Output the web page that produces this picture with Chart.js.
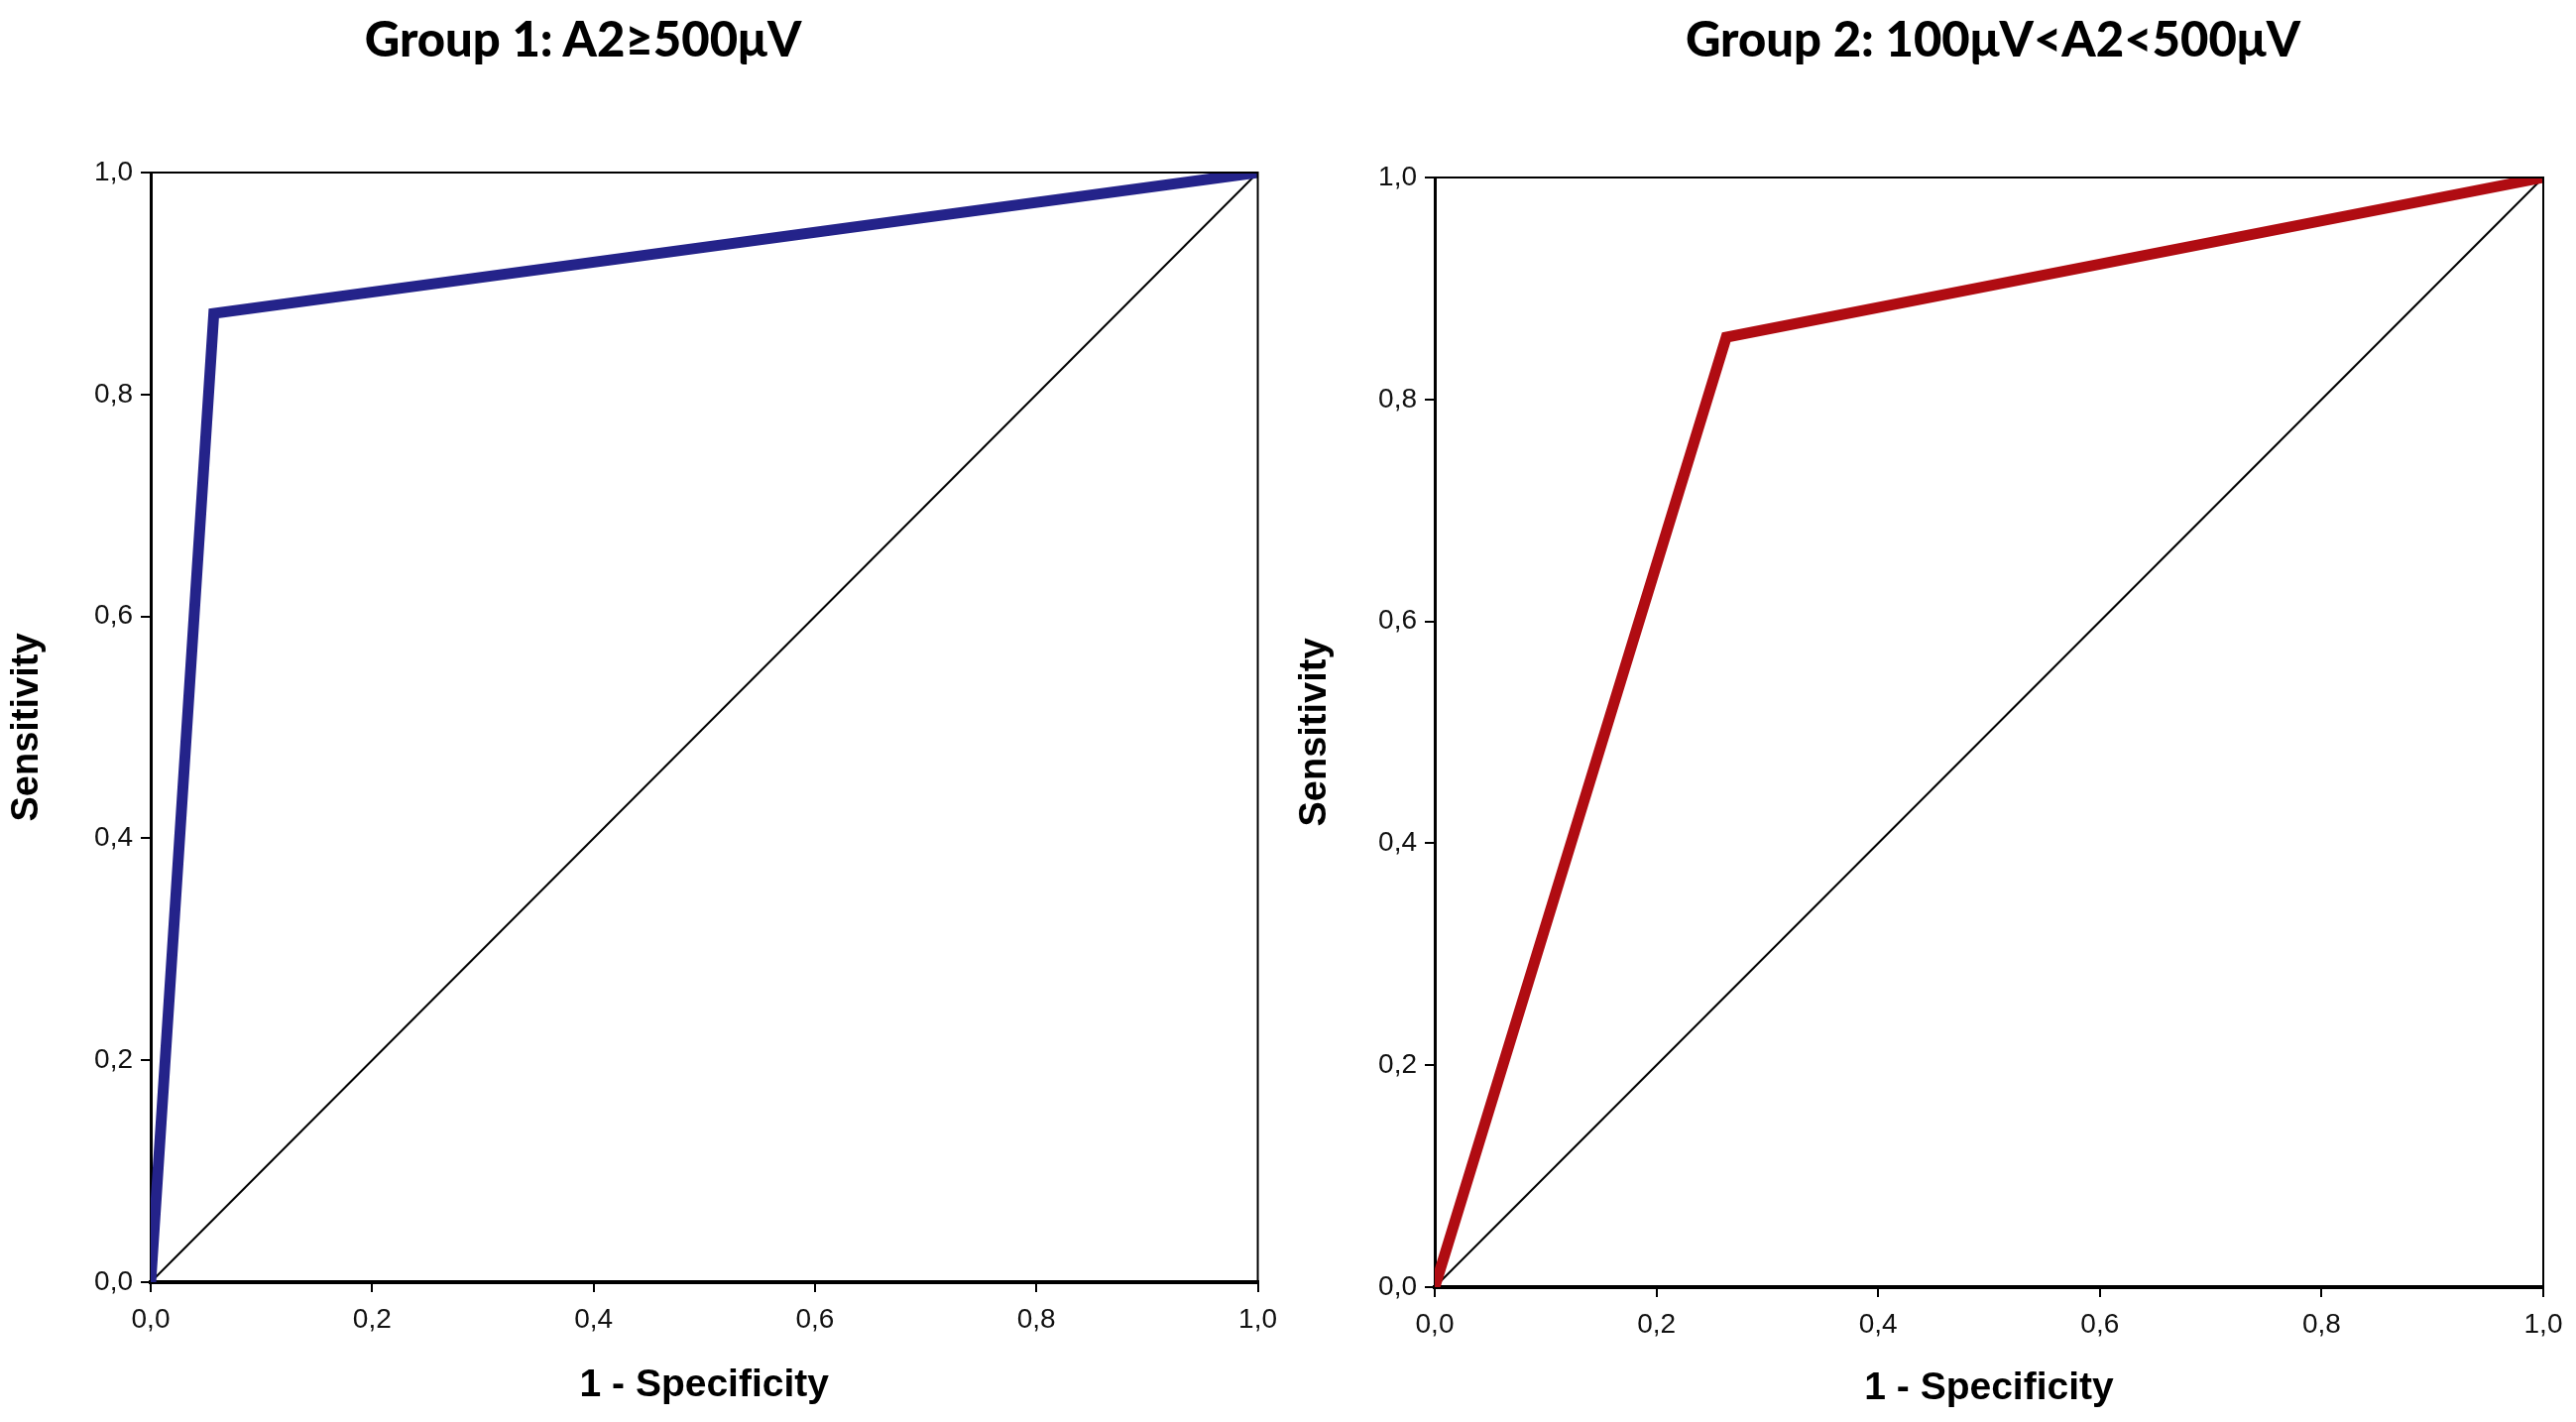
<!DOCTYPE html>
<html>
<head>
<meta charset="utf-8">
<script src="https://cdn.jsdelivr.net/npm/chart.js@4"></script>
<style>
    html, body { margin: 0; padding: 0; background: #fff; }
    body { width: 2598px; height: 1434px; position: relative; overflow: hidden; }
    canvas { position: absolute; top: 0; }
    .title {
        position: absolute;
        top: 8px;
        transform: translateX(-50%);
        font-family: Lato, "Open Sans", sans-serif;
        font-weight: 900;
        font-size: 49px;
        line-height: 60px;
        white-space: nowrap;
        color: #000;
    }
</style>
</head>
<body>
<div class="title" id="title1" style="left: 588px;"></div>
<div class="title" id="title2" style="left: 2010px;"></div>
<canvas id="roc1" width="1299" height="1434" style="left: 0;"></canvas>
<canvas id="roc2" width="1299" height="1434" style="left: 1299px;"></canvas>

<script>
// chart data
const titles = ['Group 1: A2\u2265500\u03bcV', 'Group 2: 100\u03bcV<A2<500\u03bcV'];
const tickLabels = ['0,0', '0,2', '0,4', '0,6', '0,8', '1,0'];

const fprGroup1 = [0, 0.057, 1];
const sensGroup1 = [0, 0.873, 1];

const fprGroup2 = [0, 0.263, 1];
const sensGroup2 = [0, 0.856, 1];

const refX = [0, 1];
const refY = [0, 1];

const toPoints = (xs, ys) => xs.map((x, i) => ({ x: x, y: ys[i] }));

// thin top + right border round the plot area
const framePlugin = {
    id: 'frame',
    afterDatasetsDraw(chart) {
        const { ctx, chartArea } = chart;
        ctx.save();
        ctx.strokeStyle = '#000';
        ctx.lineWidth = 2;
        ctx.beginPath();
        ctx.moveTo(chartArea.left, chartArea.top);
        ctx.lineTo(chartArea.right, chartArea.top);
        ctx.lineTo(chartArea.right, chartArea.bottom);
        ctx.stroke();
        ctx.restore();
    }
};

function makeRoc(canvasId, xs, ys, color, box) {
    const ctx = document.getElementById(canvasId).getContext('2d');
    return new Chart(ctx, {
        type: 'line',
        data: {
            datasets: [{
                data: toPoints(xs, ys),
                borderColor: color,
                borderWidth: 11,
                borderJoinStyle: 'miter',
                pointRadius: 0,
                tension: 0
            }, {
                data: toPoints(refX, refY),
                borderColor: '#000',
                borderWidth: 2,
                pointRadius: 0,
                tension: 0
            }]
        },
        options: {
            responsive: false,
            animation: false,
            devicePixelRatio: 1,
            layout: {
                padding: { top: box.top, right: box.right, left: 0, bottom: 0 }
            },
            plugins: {
                legend: { display: false },
                tooltip: { enabled: false }
            },
            scales: {
                x: {
                    type: 'linear',
                    min: 0,
                    max: 1,
                    afterFit: scale => { scale.height = box.xHeight; },
                    afterBuildTicks: scale => {
                        scale.ticks = tickLabels.map((t, i) => ({ value: i * 0.2 }));
                    },
                    ticks: {
                        padding: 11,
                        color: '#111',
                        font: { family: '"Liberation Sans", Arial, sans-serif', size: 28 },
                        callback: (v, i) => tickLabels[i]
                    },
                    grid: {
                        drawOnChartArea: false,
                        drawTicks: true,
                        tickLength: 10,
                        color: '#000',
                        lineWidth: 2
                    },
                    border: { display: true, color: '#000', width: 4 },
                    title: {
                        display: true,
                        text: '1 - Specificity',
                        color: '#000',
                        padding: { top: 0, bottom: box.xTitlePad },
                        font: { family: '"Liberation Sans", Arial, sans-serif', size: 39, weight: 'bold' }
                    }
                },
                y: {
                    type: 'linear',
                    min: 0,
                    max: 1,
                    afterFit: scale => { scale.width = box.yWidth; },
                    afterBuildTicks: scale => {
                        scale.ticks = tickLabels.map((t, i) => ({ value: i * 0.2 }));
                    },
                    ticks: {
                        padding: 8,
                        color: '#111',
                        font: { family: '"Liberation Sans", Arial, sans-serif', size: 28 },
                        callback: (v, i) => tickLabels[i]
                    },
                    grid: {
                        drawOnChartArea: false,
                        drawTicks: true,
                        tickLength: 10,
                        color: '#000',
                        lineWidth: 2
                    },
                    border: { display: true, color: '#000', width: 3 },
                    title: {
                        display: true,
                        text: 'Sensitivity',
                        color: '#000',
                        padding: { top: 5, bottom: 0 },
                        font: { family: '"Liberation Sans", Arial, sans-serif', size: 38, weight: 'bold' }
                    }
                }
            }
        },
        plugins: [framePlugin]
    });
}

document.getElementById('title1').textContent = titles[0];
document.getElementById('title2').textContent = titles[1];

makeRoc('roc1', fprGroup1, sensGroup1, '#24238a',
    { top: 174, right: 28, yWidth: 152, xHeight: 141, xTitlePad: 13 });
makeRoc('roc2', fprGroup2, sensGroup2, '#b00c12',
    { top: 179, right: 33, yWidth: 148, xHeight: 136, xTitlePad: 10 });
</script>
</body>
</html>
